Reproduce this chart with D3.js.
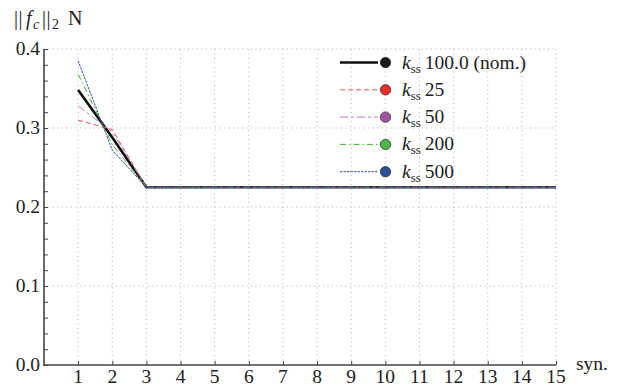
<!DOCTYPE html>
<html>
<head>
<meta charset="utf-8">
<script src="https://cdn.jsdelivr.net/npm/d3@7"></script>
<style>
  html, body { margin: 0; padding: 0; background: #fff; }
  svg { display: block; }
  text { font-family: "Liberation Serif", "DejaVu Serif", serif; fill: #222; }
</style>
</head>
<body>
<svg id="chart" width="629" height="390"></svg>
<script>
// Synergy index on the x axis
const synergies = [1, 2, 3, 4, 5, 6, 7, 8, 9, 10, 11, 12, 13, 14, 15];

// Contact force norm for each stiffness setting
const kNominal = [0.348, 0.288, 0.225, 0.225, 0.225, 0.225, 0.225, 0.225, 0.225, 0.225, 0.225, 0.225, 0.225, 0.225, 0.225];
const k25      = [0.310, 0.298, 0.225, 0.225, 0.225, 0.225, 0.225, 0.225, 0.225, 0.225, 0.225, 0.225, 0.225, 0.225, 0.225];
const k50      = [0.328, 0.295, 0.225, 0.225, 0.225, 0.225, 0.225, 0.225, 0.225, 0.225, 0.225, 0.225, 0.225, 0.225, 0.225];
const k200     = [0.368, 0.279, 0.225, 0.225, 0.225, 0.225, 0.225, 0.225, 0.225, 0.225, 0.225, 0.225, 0.225, 0.225, 0.225];
const k500     = [0.385, 0.272, 0.225, 0.225, 0.225, 0.225, 0.225, 0.225, 0.225, 0.225, 0.225, 0.225, 0.225, 0.225, 0.225];

const seriesLabels = ["100.0 (nom.)", "25", "50", "200", "500"];
const xTickLabels = synergies.map(String);
const yTickValues = [0.0, 0.1, 0.2, 0.3, 0.4];

const series = [
  { label: seriesLabels[0], values: kNominal, line: "#111111", dot: "#1a1a1a", width: 2.6, dash: null },
  { label: seriesLabels[1], values: k25,      line: "#ee5a52", dot: "#e8302a", width: 1,   dash: "5,3" },
  { label: seriesLabels[2], values: k50,      line: "#c47ac4", dot: "#a554a5", width: 1,   dash: "8,3,3,3" },
  { label: seriesLabels[3], values: k200,     line: "#3eb42e", dot: "#4cb848", width: 1,   dash: "6,3,1.5,3" },
  { label: seriesLabels[4], values: k500,     line: "#3050b0", dot: "#2e4f9e", width: 1,   dash: "2.5,1" }
];

const svg = d3.select("#chart");
const x = d3.scaleLinear().domain([0, 15]).range([44, 556]);
const y = d3.scaleLinear().domain([0, 0.4]).range([365, 49]);

// Dotted grid
const grid = svg.append("g").attr("stroke", "#a8a8a8").attr("stroke-width", 0.9).attr("stroke-dasharray", "1,3.5");
grid.selectAll("line.v").data(synergies).join("line")
  .attr("x1", d => x(d)).attr("x2", d => x(d))
  .attr("y1", y(0)).attr("y2", y(0.4));
grid.selectAll("line.h").data(yTickValues.slice(1)).join("line")
  .attr("x1", x(0)).attr("x2", x(15))
  .attr("y1", d => y(d)).attr("y2", d => y(d));

// Axes
const axisColor = "#444";
const yAxis = d3.axisRight(y)
  .tickValues(d3.range(0, 0.4001, 0.02))
  .tickSize(4).tickFormat("");
const gy = svg.append("g").attr("transform", `translate(${x(0)},0)`).call(yAxis);
gy.select(".domain").remove();
gy.selectAll("line").attr("stroke", axisColor).attr("stroke-width", 1);

const xAxis = d3.axisTop(x).tickValues(synergies).tickSize(4).tickFormat("");
const gx = svg.append("g").attr("transform", `translate(0,${y(0)})`).call(xAxis);
gx.select(".domain").remove();
gx.selectAll("line").attr("stroke", axisColor).attr("stroke-width", 1);

svg.append("line").attr("x1", x(0)).attr("x2", x(0)).attr("y1", y(0.4)).attr("y2", y(0) + 0.75)
  .attr("stroke", axisColor).attr("stroke-width", 1.6);
svg.append("line").attr("x1", x(0) - 0.75).attr("x2", x(15)).attr("y1", y(0)).attr("y2", y(0))
  .attr("stroke", axisColor).attr("stroke-width", 1.6);

// Tick labels
svg.append("g").selectAll("text").data(synergies).join("text")
  .attr("x", d => x(d)).attr("y", 383)
  .attr("text-anchor", "middle").attr("font-size", 19.5)
  .text((d, i) => xTickLabels[i]);
svg.append("g").selectAll("text").data(yTickValues).join("text")
  .attr("x", 40).attr("y", d => y(d) + 6)
  .attr("text-anchor", "end").attr("font-size", 19.5)
  .text(d => d.toFixed(1));

// Axis titles
svg.append("text").attr("x", 576).attr("y", 370).attr("font-size", 19.5).text("syn.");
const title = svg.append("text").attr("y", 25).attr("font-size", 20);
title.append("tspan").attr("x", 14).text("|");
title.append("tspan").attr("x", 18.5).text("|");
title.append("tspan").attr("x", 26).attr("font-style", "italic").text("f");
title.append("tspan").attr("x", 33).attr("font-style", "italic").attr("font-size", 14).attr("dy", 4).text("c");
title.append("tspan").attr("x", 42).attr("dy", -4).text("|");
title.append("tspan").attr("x", 46.5).text("|");
title.append("tspan").attr("x", 52).attr("font-size", 14).attr("dy", 4).text("2");
title.append("tspan").attr("x", 68).attr("dy", -4).text("N");

// Series lines
const line = d3.line().x((d, i) => x(synergies[i])).y(d => y(d));
svg.append("g").selectAll("path").data(series).join("path")
  .attr("d", d => line(d.values))
  .attr("fill", "none")
  .attr("stroke", d => d.line)
  .attr("stroke-width", d => d.width)
  .attr("stroke-dasharray", d => d.dash)
  .attr("stroke-linejoin", "round");

// Legend
const legend = svg.append("g");
const rows = legend.selectAll("g").data(series).join("g")
  .attr("transform", (d, i) => `translate(0,${62.5 + i * 27.3})`);
rows.append("line").attr("x1", 340).attr("x2", 378).attr("y1", 0).attr("y2", 0)
  .attr("stroke", d => d.line).attr("stroke-width", d => d.width)
  .attr("stroke-dasharray", d => d.dash);
rows.append("circle").attr("cx", 385.5).attr("cy", 0).attr("r", 5.2)
  .attr("fill", d => d.dot).attr("stroke", "#333").attr("stroke-width", 0.8);
const lt = rows.append("text").attr("x", 402).attr("y", 6).attr("font-size", 19.5);
lt.append("tspan").attr("font-style", "italic").text("k");
lt.append("tspan").attr("font-size", 13).attr("dy", 4).text("ss");
lt.append("tspan").attr("dy", -4).attr("dx", 4).text(d => d.label);
</script>
</body>
</html>
